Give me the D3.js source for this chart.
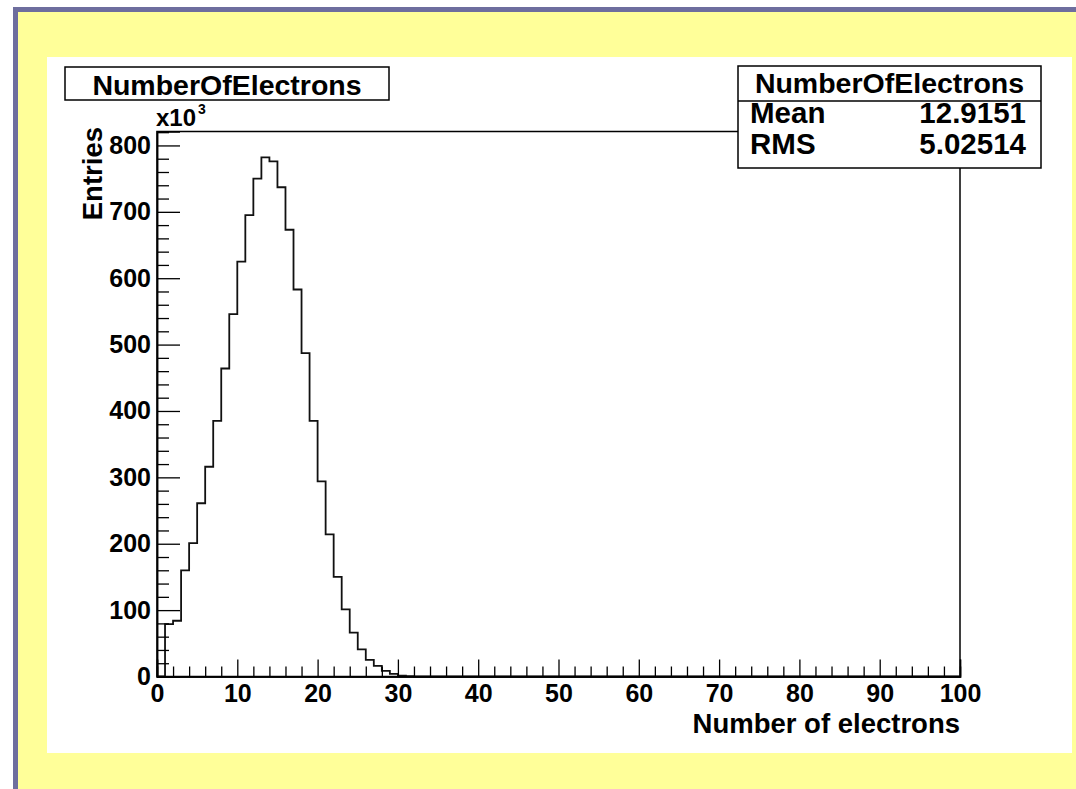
<!DOCTYPE html>
<html>
<head>
<meta charset="utf-8">
<script src="https://cdn.jsdelivr.net/npm/d3@7/dist/d3.min.js"></script>
<style>
  html, body { margin: 0; padding: 0; background: #ffffff; }
  svg { display: block; }
  text { font-family: "Liberation Sans", Arial, Helvetica, sans-serif; font-weight: bold; fill: #000; }
</style>
</head>
<body>
<svg id="chart" width="1076" height="789"></svg>
<script>
// Histogram "NumberOfElectrons": 100 bins of width 1 over [0, 100), entries in thousands.
const histName = "NumberOfElectrons";
const xTitle = "Number of electrons";
const yTitle = "Entries";
const xRange = [0, 100];
const yRange = [0, 821];
// Bin contents (x10^3) for bins 0..31; all higher bins are empty.
const binCounts = [0, 79, 84, 160, 201, 261, 316, 385, 464, 546,
                   625, 695, 750, 782, 776, 737, 673, 583, 487, 385,
                   294, 214, 150, 101, 66, 41, 25, 16, 8.5, 4,
                   1.2, 0.6];
const nBins = 100;
const xMajorTicks = [0, 10, 20, 30, 40, 50, 60, 70, 80, 90, 100];
const xMinorTicks = [2, 4, 6, 8, 12, 14, 16, 18, 22, 24, 26, 28, 32, 34, 36, 38, 42, 44, 46, 48,
                     52, 54, 56, 58, 62, 64, 66, 68, 72, 74, 76, 78, 82, 84, 86, 88, 92, 94, 96, 98];
const yMajorTicks = [0, 100, 200, 300, 400, 500, 600, 700, 800];
const yMinorTicks = [20, 40, 60, 80, 120, 140, 160, 180, 220, 240, 260, 280, 320, 340, 360, 380,
                     420, 440, 460, 480, 520, 540, 560, 580, 620, 640, 660, 680, 720, 740, 760, 780, 820];
const statLabels = ["Mean", "RMS"];
const statValues = ["12.9151", "5.02514"];

const svg = d3.select("#chart");

// Canvas: lilac edge, yellow fill, white pad
svg.append("rect").attr("x", 13).attr("y", 7).attr("width", 1076 - 13).attr("height", 789 - 7).attr("fill", "#6e6e9e");
svg.append("rect").attr("x", 18).attr("y", 12).attr("width", 1076 - 18).attr("height", 789 - 12).attr("fill", "#ffff99");
svg.append("rect").attr("x", 47).attr("y", 57).attr("width", 1072 - 47).attr("height", 753 - 57).attr("fill", "#ffffff");

// Frame geometry
const fx0 = 157, fx1 = 960, fy0 = 131.5, fy1 = 676.5;

const x = d3.scaleLinear().domain(xRange).range([fx0, fx1]);
const y = d3.scaleLinear().domain(yRange).range([fy1, fy0]);

// Frame box
svg.append("rect").attr("x", fx0).attr("y", fy0).attr("width", fx1 - fx0).attr("height", fy1 - fy0)
  .attr("fill", "none").attr("stroke", "#000").attr("stroke-width", 1.5);

// Histogram outline
const pts = [[0, 0]];
for (let i = 0; i < nBins; i++) {
  const c = i < binCounts.length ? binCounts[i] : 0;
  pts.push([i, c], [i + 1, c]);
}
pts.push([nBins, 0]);
const line = d3.line().x(d => x(d[0])).y(d => y(d[1]));
svg.append("path").attr("d", line(pts)).attr("fill", "none")
  .attr("stroke", "#111").attr("stroke-width", 1.8).attr("stroke-linejoin", "miter");

// Axes with inward ticks
function styleAxis(g) {
  g.select(".domain").attr("stroke", "#000").attr("stroke-width", 1.5);
  g.selectAll(".tick line").attr("stroke", "#000").attr("stroke-width", 1.3);
  g.selectAll("text").attr("font-family", "Liberation Sans, Arial, sans-serif")
    .attr("font-weight", "bold").attr("fill", "#000");
}

const xAxisMinor = svg.append("g").attr("transform", `translate(0,${fy1})`)
  .call(d3.axisBottom(x).tickValues(xMinorTicks).tickSize(-10).tickFormat(""));
styleAxis(xAxisMinor);
const xAxis = svg.append("g").attr("transform", `translate(0,${fy1})`)
  .call(d3.axisBottom(x).tickValues(xMajorTicks).tickSize(-17).tickPadding(8).tickFormat(d3.format("d")));
styleAxis(xAxis);
xAxis.selectAll("text").attr("font-size", 25);

const yAxisMinor = svg.append("g").attr("transform", `translate(${fx0},0)`)
  .call(d3.axisLeft(y).tickValues(yMinorTicks).tickSize(-12).tickFormat(""));
styleAxis(yAxisMinor);
const yAxis = svg.append("g").attr("transform", `translate(${fx0},0)`)
  .call(d3.axisLeft(y).tickValues(yMajorTicks).tickSize(-23).tickPadding(6).tickFormat(d3.format("d")));
styleAxis(yAxis);
yAxis.selectAll("text").attr("font-size", 25);

// Exponent note on the y axis
svg.append("text").attr("x", 156).attr("y", 126).attr("font-size", 24).attr("font-weight", "normal").text("x10");
svg.append("text").attr("x", 198).attr("y", 114).attr("font-size", 14).attr("font-weight", "normal").text("3");

// Axis titles
svg.append("text").attr("x", fx1).attr("y", 733).attr("text-anchor", "end").attr("font-size", 27.5).text(xTitle);
svg.append("text").attr("transform", `translate(102,127) rotate(-90)`).attr("text-anchor", "end")
  .attr("font-size", 27.5).text(yTitle);

// Title box
svg.append("rect").attr("x", 65).attr("y", 67).attr("width", 389 - 65).attr("height", 100 - 67)
  .attr("fill", "#fff").attr("stroke", "#000").attr("stroke-width", 1.5);
svg.append("text").attr("x", 227).attr("y", 95).attr("text-anchor", "middle").attr("font-size", 28.5).text(histName);

// Statistics box
const sb = { x0: 738, x1: 1041, y0: 66, y1: 168, ySplit: 101 };
svg.append("rect").attr("x", sb.x0).attr("y", sb.y0).attr("width", sb.x1 - sb.x0).attr("height", sb.y1 - sb.y0)
  .attr("fill", "#fff").attr("stroke", "#000").attr("stroke-width", 1.5);
svg.append("line").attr("x1", sb.x0).attr("x2", sb.x1).attr("y1", sb.ySplit).attr("y2", sb.ySplit)
  .attr("stroke", "#000").attr("stroke-width", 1.5);
svg.append("text").attr("x", (sb.x0 + sb.x1) / 2).attr("y", 93).attr("text-anchor", "middle")
  .attr("font-size", 28.5).text(histName);
const statRows = [123, 154];
statLabels.forEach((lab, i) => {
  svg.append("text").attr("x", 750).attr("y", statRows[i]).attr("font-size", 29.5).text(lab);
  svg.append("text").attr("x", 1026).attr("y", statRows[i]).attr("text-anchor", "end").attr("font-size", 29.5).text(statValues[i]);
});
</script>
</body>
</html>
